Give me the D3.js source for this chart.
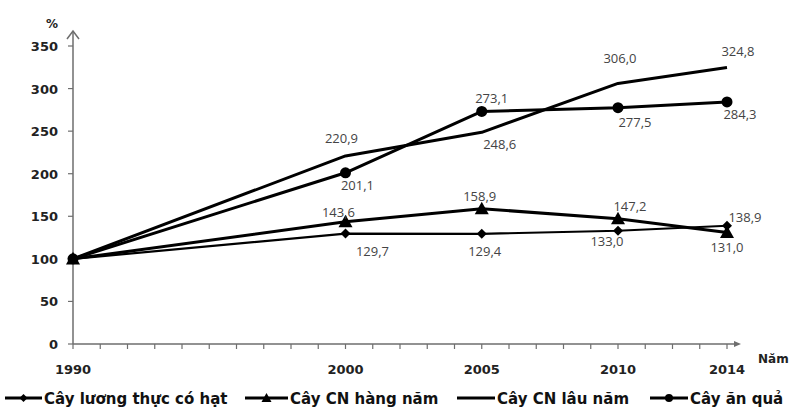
<!DOCTYPE html>
<html><head><meta charset="utf-8">
<script src="https://cdn.jsdelivr.net/npm/d3@7"></script>
<style>body{margin:0;background:#fff}svg{display:block}</style>
</head><body><svg id="c" width="799" height="416"></svg>
<script>
const years = [1990, 2000, 2005, 2010, 2014];
const yTicks = [0, 50, 100, 150, 200, 250, 300, 350];
const seriesNames = ["Cây lương thực có hạt", "Cây CN hàng năm", "Cây CN lâu năm", "Cây ăn quả"];
const luongThuc = [100, 129.7, 129.4, 133.0, 138.9];
const cnHangNam = [100, 143.6, 158.9, 147.2, 131.0];
const cnLauNam = [100, 220.9, 248.6, 306.0, 324.8];
const anQua = [100, 201.1, 273.1, 277.5, 284.3];
const markers = ["diamond", "triangle", "none", "circle"];
// label offsets [dx, dy] per series per point (first point has no label)
const labelOffsets = [
  [null, [27, 22], [3, 22], [-11, 15], [18, -4]],
  [null, [-7, -5], [-2, -8], [12, -8], [0, 20]],
  [null, [-4, -13], [18, 17], [2, -20], [11, -11]],
  [null, [12, 17], [10, -8], [17, 19], [13, 17]]
];
const allSeries = [luongThuc, cnHangNam, cnLauNam, anQua];

const svg = d3.select("#c");
const x = d3.scaleLinear().domain([1990, 2014]).range([73, 727]);
const y = d3.scaleLinear().domain([0, 350]).range([344, 46]);
const axisColor = "#6e6e6e";
const font = "'DejaVu Sans', Verdana, sans-serif";

// y axis
svg.append("line").attr("x1", 73).attr("x2", 73).attr("y1", 344).attr("y2", 31)
  .attr("stroke", axisColor).attr("stroke-width", 1.5);
svg.append("path").attr("d", "M67,39 L73,31 L79,39").attr("fill", "none")
  .attr("stroke", axisColor).attr("stroke-width", 1.5);
yTicks.forEach(t => {
  svg.append("line").attr("x1", 68).attr("x2", 73).attr("y1", y(t)).attr("y2", y(t))
    .attr("stroke", axisColor).attr("stroke-width", 1.2);
  svg.append("text").attr("x", 58).attr("y", y(t) + 5).attr("text-anchor", "end")
    .attr("font-family", font).attr("font-weight", "bold").attr("font-size", 13)
    .attr("fill", "#222").text(t);
});
svg.append("text").attr("x", 52).attr("y", 28).attr("text-anchor", "middle")
  .attr("font-family", font).attr("font-weight", "bold").attr("font-size", 12)
  .attr("fill", "#222").text("%");

// x axis
svg.append("line").attr("x1", 73).attr("x2", 738).attr("y1", 344).attr("y2", 344)
  .attr("stroke", axisColor).attr("stroke-width", 1.5);
svg.append("path").attr("d", "M734,341 L741,344 L734,347 Z").attr("fill", axisColor);
d3.range(1990, 2015).forEach(yr => {
  svg.append("line").attr("x1", x(yr)).attr("x2", x(yr)).attr("y1", 344).attr("y2", 349)
    .attr("stroke", axisColor).attr("stroke-width", 1.2);
});
years.forEach(yr => {
  svg.append("text").attr("x", x(yr)).attr("y", 374).attr("text-anchor", "middle")
    .attr("font-family", font).attr("font-weight", "bold").attr("font-size", 13)
    .attr("fill", "#222").text(yr);
});
svg.append("text").attr("x", 758).attr("y", 363)
  .attr("font-family", font).attr("font-weight", "bold").attr("font-size", 12)
  .attr("fill", "#222").text("Năm");

const line = d3.line().x((d, i) => x(years[i])).y(d => y(d));

function drawMarker(g, type, cx, cy, s) {
  if (type === "diamond") {
    g.append("path").attr("d", `M${cx},${cy - s} L${cx + s},${cy} L${cx},${cy + s} L${cx - s},${cy} Z`).attr("fill", "#000");
  } else if (type === "triangle") {
    g.append("path").attr("d", `M${cx},${cy - s} L${cx + s},${cy + s * 0.8} L${cx - s},${cy + s * 0.8} Z`).attr("fill", "#000");
  } else if (type === "circle") {
    g.append("circle").attr("cx", cx).attr("cy", cy).attr("r", s).attr("fill", "#000");
  }
}
const markerSize = { diamond: 5, triangle: 7, circle: 5.5, none: 0 };

allSeries.forEach((vals, si) => {
  svg.append("path").datum(vals).attr("d", line).attr("fill", "none")
    .attr("stroke", "#000").attr("stroke-width", si === 0 ? 2.2 : 3)
    .attr("stroke-linejoin", "round");
});
allSeries.forEach((vals, si) => {
  const g = svg.append("g");
  vals.forEach((v, i) => drawMarker(g, markers[si], x(years[i]), y(v), markerSize[markers[si]]));
});
allSeries.forEach((vals, si) => {
  vals.forEach((v, i) => {
    const off = labelOffsets[si][i];
    if (!off) return;
    svg.append("text").attr("x", x(years[i]) + off[0]).attr("y", y(v) + off[1])
      .attr("text-anchor", "middle").attr("font-family", "'Open Sans', sans-serif")
      .attr("font-size", 13).attr("fill", "#444").text(v.toFixed(1).replace(".", ","));
  });
});

// legend
const legendX = [5, 245, 457, 650];
const legendLen = [37, 43, 38, 38];
legendX.forEach((lx, si) => {
  const ly = 398;
  svg.append("line").attr("x1", lx).attr("x2", lx + legendLen[si]).attr("y1", ly).attr("y2", ly)
    .attr("stroke", "#000").attr("stroke-width", 3);
  drawMarker(svg, markers[si], lx + legendLen[si] / 2, ly, si === 1 ? 5 : 4);
  svg.append("text").attr("x", lx + legendLen[si] + 2).attr("y", ly + 6)
    .attr("font-family", font).attr("font-weight", "bold").attr("font-size", 15)
    .attr("fill", "#111").text(seriesNames[si]);
});
</script></body></html>
